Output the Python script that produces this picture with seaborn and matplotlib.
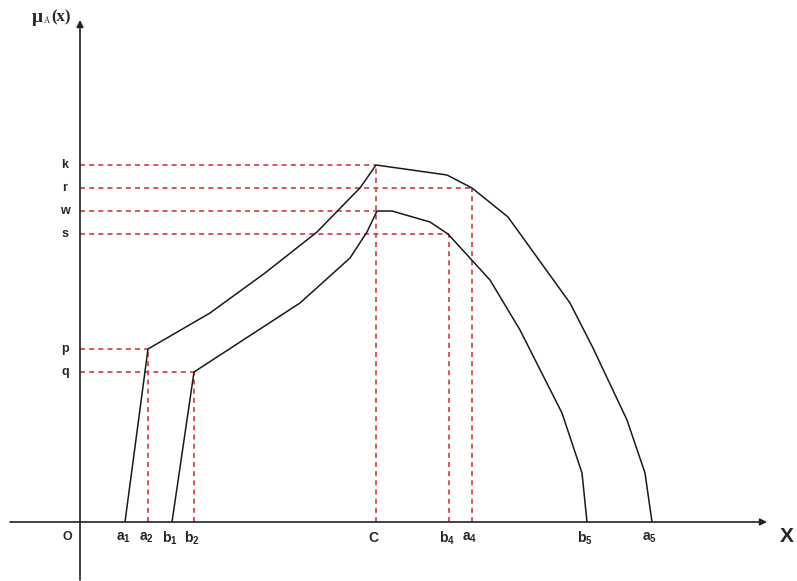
import pandas as pd
import seaborn as sns
import matplotlib.pyplot as plt

# obwiednie (jednostki: piksele od poczatku ukladu)
zew_x = [45, 68, 130, 185, 237, 273, 280, 296, 367, 392, 428, 490, 513, 547, 565, 572]
zew_y = [0, 173, 209, 249, 290, 327, 334, 357, 347, 334, 305, 219, 174, 102, 49, 0]
wew_x = [92, 114, 220, 270, 287, 297, 312, 350, 368, 410, 440, 482, 502, 507]
wew_y = [0, 150, 219, 264, 290, 311, 311, 300, 288, 242, 192, 109, 49, 0]

# poziomy na osi Y
poziomy = ['k', 'r', 'w', 's', 'p', 'q']
poziomy_y = [357, 334, 311, 288, 173, 150]
poziomy_x = [296, 392, 296, 369, 68, 114]

# punkty na osi X
punkty = ['a_1', 'a_2', 'b_1', 'b_2', 'C', 'b_4', 'a_4', 'b_5', 'a_5']
punkty_x = [45, 68, 92, 114, 296, 369, 392, 507, 572]
pionowe = {'a_2': 173, 'b_2': 150, 'C': 357, 'b_4': 288, 'a_4': 334}

plt.rcParams['mathtext.fontset'] = 'custom'
plt.rcParams['mathtext.rm'] = 'Liberation Sans:bold'
plt.rcParams['mathtext.it'] = 'Liberation Sans:bold'

def wykres():
    sns.set_style('white')
    fig = plt.figure(figsize=(7.97, 5.81), dpi=100)
    ax = fig.add_axes([0, 0, 1, 1])
    ax.set_xlim(-80, 717)
    ax.set_ylim(-59, 522)
    ax.axis('off')

    czerwony = '#d9363e'
    for y, x in zip(poziomy_y, poziomy_x):
        ax.plot([0, x], [y, y], color=czerwony, lw=1.2, ls=(0, (3, 2.5)))
    for nazwa, y in pionowe.items():
        x = punkty_x[punkty.index(nazwa)]
        ax.plot([x, x], [0, y], color=czerwony, lw=1.2, ls=(0, (3, 2.5)))

    df_zew = pd.DataFrame({'x': zew_x, 'y': zew_y})
    df_wew = pd.DataFrame({'x': wew_x, 'y': wew_y})
    sns.lineplot(data=df_zew, x='x', y='y', sort=False, color='#1a1a1a', lw=1.1, ax=ax)
    sns.lineplot(data=df_wew, x='x', y='y', sort=False, color='#1a1a1a', lw=1.1, ax=ax)

    # osie ze strzalkami
    ax.annotate('', xy=(687, 0), xytext=(-70, 0),
                arrowprops=dict(arrowstyle='-|>', color='#222222', lw=1.2,
                                mutation_scale=10, shrinkA=0, shrinkB=0))
    ax.annotate('', xy=(0, 502), xytext=(0, -58),
                arrowprops=dict(arrowstyle='-|>', color='#222222', lw=1.2,
                                mutation_scale=10, shrinkA=0, shrinkB=0))

    for nazwa, y in zip(poziomy, poziomy_y):
        ax.text(-15, y, nazwa, ha='center', va='center', fontsize=9,
                fontweight='bold', family='Liberation Sans')
    for nazwa, x in zip(punkty, punkty_x):
        ax.text(x - 2, -16, '$\\mathrm{' + nazwa + '}$', ha='center', va='center',
                fontsize=10)
    ax.text(-13, -15, 'O', ha='center', va='center', fontsize=9,
            fontweight='bold', family='Liberation Sans')
    ax.text(707, -15, 'X', ha='center', va='center', fontsize=15,
            fontweight='bold', family='Liberation Sans')

    # etykieta osi Y
    ax.text(-48, 505, 'μ', ha='left', va='center', fontsize=14,
            fontweight='bold', family='Liberation Serif')
    ax.text(-36, 501, 'Ã', ha='left', va='center', fontsize=6,
            family='Liberation Serif')
    ax.text(-29, 505, '(x)', ha='left', va='center', fontsize=12,
            fontweight='bold', family='Liberation Serif')

    fig.savefig('out.png', dpi=100)

if __name__ == "__main__":
    wykres()
